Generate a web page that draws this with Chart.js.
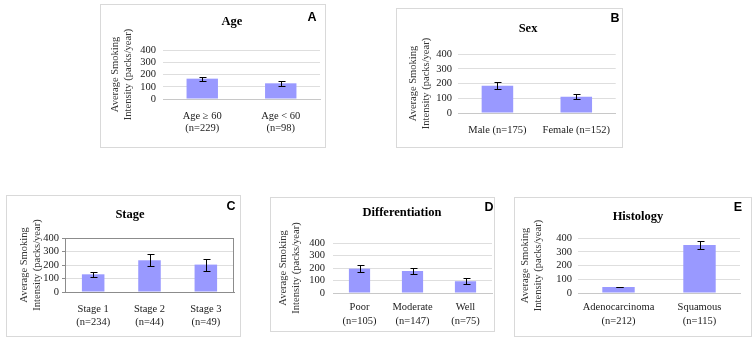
<!DOCTYPE html>
<html>
<head>
<meta charset="utf-8">
<script src="https://cdn.jsdelivr.net/npm/chart.js@4.4.1/dist/chart.umd.min.js"></script>
<style>
  body { margin: 0; background: #fff; width: 752px; height: 344px; position: relative; overflow: hidden; }
  .panel { position: absolute; border: 1px solid #d9d9d9; box-sizing: border-box; background: #fff; }
  .panel canvas { position: absolute; left: 0; top: 0; }
  .title { position: absolute; font: bold 12.5px 'Liberation Serif', 'Times New Roman', serif; color: #000;
           transform: translate(-50%, -50%); line-height: 1; white-space: nowrap; }
  .letter { position: absolute; font: bold 12.5px 'Liberation Sans', Arial, sans-serif; color: #000;
            transform: translate(-50%, -50%); line-height: 1; }
</style>
</head>
<body>
<script>
const yTicks = [0, 100, 200, 300, 400];
const yTitle = ['Average Smoking', 'Intensity (packs/year)'];

const ageLabels = [['Age \u2265 60', '(n=229)'], ['Age < 60', '(n=98)']];
const ageMeans = [166, 128];
const ageErrors = [17, 23];

const sexLabels = ['Male (n=175)', 'Female (n=152)'];
const sexMeans = [185, 110];
const sexErrors = [22, 16];

const stageLabels = [['Stage 1', '(n=234)'], ['Stage 2', '(n=44)'], ['Stage 3', '(n=49)']];
const stageMeans = [131, 235, 203];
const stageErrors = [19, 43, 45];

const diffLabels = [['Poor', '(n=105)'], ['Moderate', '(n=147)'], ['Well', '(n=75)']];
const diffMeans = [195, 176, 94];
const diffErrors = [27, 26, 25];

const histLabels = [['Adenocarcinoma', '(n=212)'], ['Squamous', '(n=115)']];
const histMeans = [44, 349];
const histErrors = [3, 32];

// page geometry of each panel (box, plot area, text anchors)
const panels = [
  { letter: 'A', title: 'Age', labels: ageLabels, means: ageMeans, errors: ageErrors,
    box: [100, 4, 226, 144], plot: [163, 50, 320, 99], titleAt: [232, 21], letterAt: [312, 17],
    yTitleX: 115, yTickGap: 7, xLabelY: 116.7, xLine: 11.7 },
  { letter: 'B', title: 'Sex', labels: sexLabels, means: sexMeans, errors: sexErrors,
    box: [396, 8, 227, 140], plot: [458, 54, 616, 113], titleAt: [528, 28], letterAt: [615, 18],
    yTitleX: 413, yTickGap: 6, xLabelY: 130, xLine: 13 },
  { letter: 'C', title: 'Stage', labels: stageLabels, means: stageMeans, errors: stageErrors,
    box: [6, 195, 235, 142], plot: [65, 238, 234, 292], titleAt: [130, 214], letterAt: [231, 206],
    yTitleX: 24, yTickGap: 6, xLabelY: 309.3, xLine: 13, framed: true },
  { letter: 'D', title: 'Differentiation', labels: diffLabels, means: diffMeans, errors: diffErrors,
    box: [270, 197, 225, 135], plot: [333, 243, 492, 293], titleAt: [402, 212], letterAt: [489, 207],
    yTitleX: 283, yTickGap: 8, xLabelY: 307.7, xLine: 14 },
  { letter: 'E', title: 'Histology', labels: histLabels, means: histMeans, errors: histErrors,
    box: [514, 197, 238, 140], plot: [578, 238, 740, 293], titleAt: [638, 216], letterAt: [738, 207],
    yTitleX: 525, yTickGap: 6, xLabelY: 307.7, xLine: 13.3 }
];

const errorBars = {
  id: 'errorBars',
  afterDatasetsDraw(chart) {
    const ctx = chart.ctx;
    const y = chart.scales.y;
    chart.data.datasets.forEach((ds, i) => {
      chart.getDatasetMeta(i).data.forEach((bar, j) => {
        const top = Math.round(y.getPixelForValue(ds.data[j] + ds.errors[j])) + 0.5;
        const bottom = Math.round(y.getPixelForValue(ds.data[j] - ds.errors[j])) + 0.5;
        const x = Math.round(bar.x) + 0.5;
        ctx.save();
        ctx.strokeStyle = '#000';
        ctx.lineWidth = 1;
        ctx.beginPath();
        ctx.moveTo(x, top); ctx.lineTo(x, bottom);
        ctx.moveTo(x - 3, top); ctx.lineTo(x + 4, top);
        ctx.moveTo(x - 3, bottom); ctx.lineTo(x + 4, bottom);
        ctx.stroke();
        ctx.restore();
      });
    });
  }
};

const plotFrame = {
  id: 'plotFrame',
  afterDraw(chart, args, opts) {
    if (!opts.color) return;
    const a = chart.chartArea;
    const ctx = chart.ctx;
    ctx.save();
    ctx.strokeStyle = opts.color;
    ctx.lineWidth = 1;
    ctx.strokeRect(Math.round(a.left) + 0.5, Math.round(a.top) + 0.5,
                   Math.round(a.right - a.left) - 1, Math.round(a.bottom - a.top));
    ctx.restore();
  }
};

Chart.defaults.font.family = "'Liberation Serif', 'Times New Roman', serif";
Chart.defaults.color = '#1a1a1a';

panels.forEach(p => {
  const [bx, by, bw, bh] = p.box;
  const ox = bx + 1, oy = by + 1, cw = bw - 2, ch = bh - 2;

  const div = document.createElement('div');
  div.className = 'panel';
  div.style.left = bx + 'px';
  div.style.top = by + 'px';
  div.style.width = bw + 'px';
  div.style.height = bh + 'px';
  const canvas = document.createElement('canvas');
  canvas.width = cw;
  canvas.height = ch;
  div.appendChild(canvas);

  const t = document.createElement('div');
  t.className = 'title';
  t.textContent = p.title;
  t.style.left = (p.titleAt[0] - ox) + 'px';
  t.style.top = (p.titleAt[1] - oy) + 'px';
  div.appendChild(t);

  const l = document.createElement('div');
  l.className = 'letter';
  l.textContent = p.letter;
  l.style.left = (p.letterAt[0] - ox) + 'px';
  l.style.top = (p.letterAt[1] - oy) + 'px';
  div.appendChild(l);

  document.body.appendChild(div);

  const [pl, pt, pr, pb] = p.plot;
  const yWidth = pl - ox;
  const xHeight = oy + ch - pb;
  const framed = !!p.framed;
  const tickLen = framed ? 3 : 0;
  const lineColor = framed ? '#8c8c8c' : '#c8c8c8';
  const yTitleLH = 10.5 * 1.3;

  new Chart(canvas, {
    type: 'bar',
    data: {
      labels: p.labels,
      datasets: [{
        data: p.means,
        errors: p.errors,
        backgroundColor: '#9999ff',
        borderWidth: 0,
        barPercentage: 0.4,
        categoryPercentage: 1
      }]
    },
    options: {
      responsive: false,
      devicePixelRatio: 1,
      animation: false,
      layout: { padding: { left: 0, top: pt - oy, right: ox + cw - pr, bottom: 0 } },
      plugins: {
        legend: { display: false },
        tooltip: { enabled: false },
        title: { display: false },
        plotFrame: { color: framed ? '#8c8c8c' : null }
      },
      scales: {
        x: {
          grid: { display: false, drawTicks: false },
          border: { display: true, color: lineColor },
          ticks: {
            autoSkip: false,
            maxRotation: 0,
            padding: p.xLabelY - pb - p.xLine / 2,
            font: { size: 10.5, lineHeight: p.xLine / 10.5 }
          },
          afterFit: s => { s.height = xHeight; }
        },
        y: {
          min: 0,
          max: 400,
          afterBuildTicks: s => { s.ticks = yTicks.map(v => ({ value: v })); },
          grid: { color: '#dedede', drawTicks: framed, tickLength: tickLen, tickColor: '#8c8c8c' },
          border: { display: framed, color: '#8c8c8c' },
          ticks: { autoSkip: false, padding: p.yTickGap - tickLen, font: { size: 10.5 } },
          title: {
            display: true,
            text: yTitle,
            color: '#333',
            font: { size: 10.5, lineHeight: 1.3 },
            padding: { top: p.yTitleX - ox - yTitleLH / 2, bottom: 0 }
          },
          afterFit: s => { s.width = yWidth; }
        }
      }
    },
    plugins: [errorBars, plotFrame]
  });
});
</script>
</body>
</html>
